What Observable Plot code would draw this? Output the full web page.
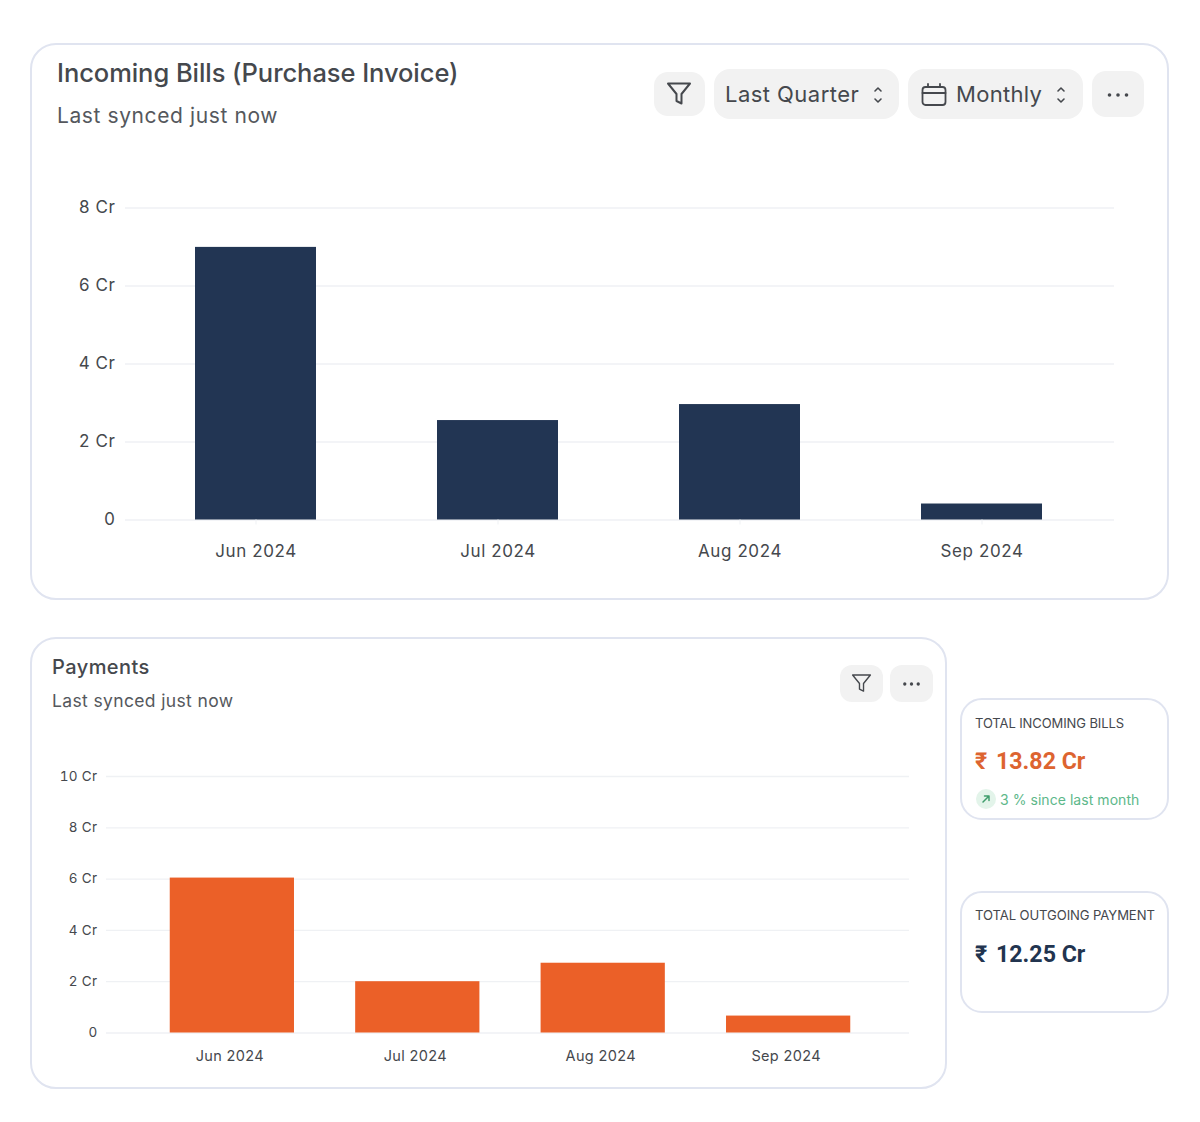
<!DOCTYPE html>
<html>
<head>
<meta charset="utf-8">
<script src="https://cdn.jsdelivr.net/npm/d3@7"></script>
<script src="https://cdn.jsdelivr.net/npm/@observablehq/plot@0.6"></script>
<style>
html,body{margin:0;padding:0;background:#fff;overflow:hidden}
body{width:1200px;height:1122px;position:relative;font-family:Inter,"Noto Sans",sans-serif;color:#45484d}
.a{position:absolute;white-space:nowrap}
.card{position:absolute;box-sizing:border-box;border:2px solid #e0e4f0;background:#fff}
.btn{position:absolute;background:#f2f2f2;display:block}
svg.plot{position:absolute;overflow:visible}
svg.icon{position:absolute;fill:none;stroke:#45484d;stroke-width:2;stroke-linecap:round;stroke-linejoin:round}
#p1,#p2{position:absolute;left:0}
</style>
</head>
<body>
<div class="card" style="left:30px;top:43px;width:1139px;height:557px;border-radius:26px"></div>
<div class="a" style="left:57px;top:57px;font-size:25.5px;font-weight:500;line-height:32px;letter-spacing:-.06px">Incoming Bills (Purchase Invoice)</div>
<div class="a" style="left:57px;top:102px;font-size:21px;line-height:28px;color:#55585d;letter-spacing:.6px">Last synced just now</div>

<div class="btn" style="left:654px;top:72px;width:51px;height:44px;border-radius:14px"></div>
<div class="btn" style="left:714px;top:69px;width:185px;height:50px;border-radius:16px"></div>
<div class="btn" style="left:908px;top:69px;width:175px;height:50px;border-radius:16px"></div>
<div class="btn" style="left:1092px;top:71px;width:52px;height:46px;border-radius:14px"></div>
<svg class="icon" style="left:666px;top:81px" width="26" height="26" viewBox="0 0 26 26"><path d="M2 2.5h22l-8.5 10.5v9.5l-5-2.5v-7z"/></svg>
<div class="a" style="left:725px;top:80px;font-size:22px;line-height:28px;letter-spacing:.46px">Last Quarter</div>
<svg class="icon" style="left:870px;top:84px;stroke-width:1.6" width="16" height="22" viewBox="0 0 16 22"><path d="M5 7l3-3 3 3M5 15l3 3 3-3"/></svg>
<svg class="icon" style="left:920px;top:82px;stroke-width:1.8" width="28" height="26" viewBox="0 0 28 26"><rect x="2.500" y="5" width="23" height="18" rx="3"/><path d="M2.500 11h23M8 2v3M20 2v3"/></svg>
<div class="a" style="left:956px;top:80px;font-size:22px;line-height:28px;letter-spacing:.3px">Monthly</div>
<svg class="icon" style="left:1053px;top:84px;stroke-width:1.6" width="16" height="22" viewBox="0 0 16 22"><path d="M5 7l3-3 3 3M5 15l3 3 3-3"/></svg>
<svg class="icon" style="left:1106px;top:88px;stroke:none;fill:#45484d" width="24" height="14" viewBox="0 0 24 14"><circle cx="3.500" cy="7" r="1.800"/><circle cx="12" cy="7" r="1.800"/><circle cx="20.500" cy="7" r="1.800"/></svg>

<div class="card" style="left:30px;top:637px;width:917px;height:452px;border-radius:26px"></div>
<div class="a" style="left:52px;top:654px;font-size:20px;font-weight:500;line-height:26px;letter-spacing:.45px">Payments</div>
<div class="a" style="left:52px;top:689px;font-size:17.500px;line-height:24px;color:#55585d;letter-spacing:.36px">Last synced just now</div>
<div class="btn" style="left:840px;top:665px;width:43px;height:37px;border-radius:12px"></div>
<div class="btn" style="left:890px;top:665px;width:43px;height:37px;border-radius:12px"></div>
<svg class="icon" style="left:851px;top:673px;stroke-width:1.700" width="21" height="21" viewBox="0 0 26 26"><path d="M2 2.500h22l-8.500 10.500v9.500l-5-2.500v-7z"/></svg>
<svg class="icon" style="left:902px;top:677px;stroke:none;fill:#45484d" width="19" height="14" viewBox="0 0 24 14"><circle cx="3.500" cy="7" r="2.100"/><circle cx="12" cy="7" r="2.100"/><circle cx="20.500" cy="7" r="2.100"/></svg>

<div id="p1" style="top:170px"></div>
<div id="p2" style="top:750px"></div>

<div class="card" style="left:960px;top:698px;width:209px;height:122px;border-radius:22px"></div>
<div class="a" style="left:975px;top:715px;font-size:13px;line-height:17px;letter-spacing:-.1px">TOTAL INCOMING BILLS</div>
<div class="a" style="left:975px;top:746px;font-size:23.200px;font-weight:700;line-height:30px;color:#dd6430;font-family:Roboto,Inter,sans-serif"><span style="display:inline-block;width:21px">₹</span>13.82 Cr</div>
<svg class="a" style="left:975px;top:788px" width="22" height="22" viewBox="0 0 22 22"><circle cx="11" cy="11" r="10" fill="#e3f4ea"/><path d="M8 14l6-6M9.500 8H14v4.500" fill="none" stroke="#3f9d6c" stroke-width="1.500" stroke-linecap="round" stroke-linejoin="round"/></svg>
<div class="a" style="left:1000px;top:791px;font-size:14px;line-height:18px;color:#5db88a;letter-spacing:.05px">3 % since last month</div>

<div class="card" style="left:960px;top:891px;width:209px;height:122px;border-radius:22px"></div>
<div class="a" style="left:975px;top:907px;font-size:13.100px;line-height:17px;letter-spacing:-.1px">TOTAL OUTGOING PAYMENT</div>
<div class="a" style="left:975px;top:939px;font-size:23.200px;font-weight:700;line-height:30px;color:#22344f;font-family:Roboto,Inter,sans-serif"><span style="display:inline-block;width:21px">₹</span>12.25 Cr</div>

<script>
const months = ["Jun 2024", "Jul 2024", "Aug 2024", "Sep 2024"];
const incomingBills = [6.99, 2.55, 2.96, 0.41];
const payments = [6.04, 2.0, 2.72, 0.66];
const incomingTicks = [0, 2, 4, 6, 8];
const paymentTicks = [0, 2, 4, 6, 8, 10];
const crore = d => d === 0 ? "0" : d + " Cr";
const rows = values => months.map((month, i) => ({month, value: values[i]}));

const chart1 = Plot.plot({
  width: 1200, height: 400,
  marginLeft: 125, marginRight: 86, marginTop: 37.5, marginBottom: 50.5,
  style: {fontFamily: "Inter, sans-serif", background: "transparent", overflow: "visible", letterSpacing: "0.6px"},
  x: {domain: months, range: [134.5, 1102.5], paddingInner: 0.5, paddingOuter: 0.25, round: false, label: null},
  y: {domain: [0, 8], label: null},
  marks: [
    Plot.ruleY(incomingTicks, {stroke: "#eff1f4", strokeWidth: 1.3}),
    Plot.barY(rows(incomingBills), {x: "month", y: "value", fill: "#223553"}),
    Plot.axisY({ticks: incomingTicks, tickFormat: crore, tickSize: 0, tickPadding: 10, fontSize: 17, fill: "#45484d", label: null}),
    Plot.axisX({tickSize: 5, tickPadding: 20, fontSize: 17, fill: "#45484d", stroke: "#eff1f4", label: null})
  ]
});
document.getElementById("p1").append(chart1);

const chart2 = Plot.plot({
  width: 1200, height: 340,
  marginLeft: 106, marginRight: 291, marginTop: 26, marginBottom: 57.5,
  style: {fontFamily: "Inter, sans-serif", background: "transparent", overflow: "visible", letterSpacing: "0.35px"},
  x: {domain: months, range: [108, 912], paddingInner: 0.33, paddingOuter: 0.333, round: false, label: null},
  y: {domain: [0, 10], label: null},
  marks: [
    Plot.ruleY(paymentTicks, {stroke: "#eff1f4", strokeWidth: 1.3}),
    Plot.barY(rows(payments), {x: "month", y: "value", fill: "#eb6028"}),
    Plot.axisY({ticks: paymentTicks, tickFormat: crore, tickSize: 0, tickPadding: 9, fontSize: 13.5, fill: "#45484d", label: null}),
    Plot.axisX({tickSize: 0, tickPadding: 17.5, dx: -2.5, fontSize: 14.5, fill: "#45484d", label: null})
  ]
});
document.getElementById("p2").append(chart2);
</script>
</body>
</html>
